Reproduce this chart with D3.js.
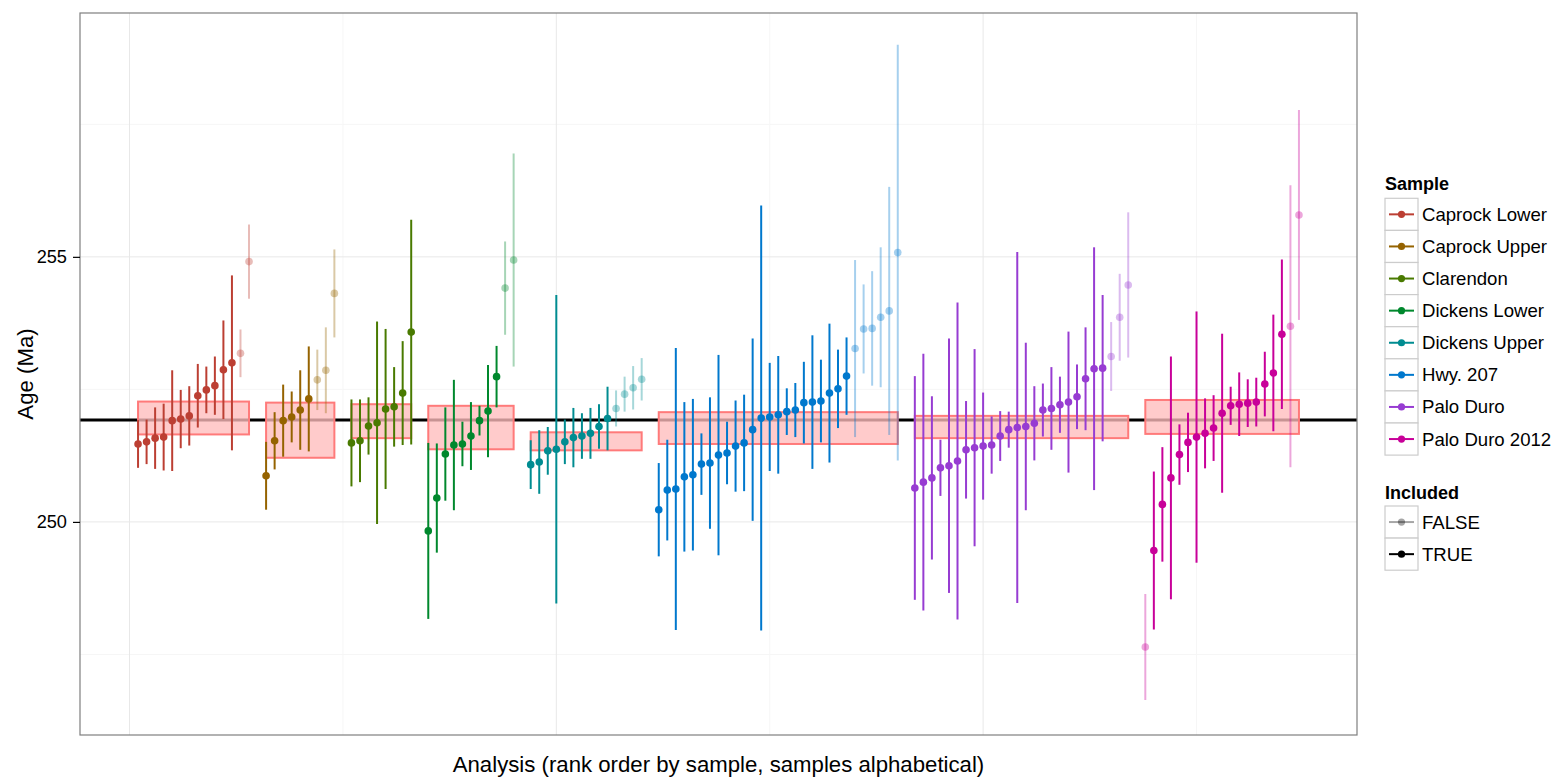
<!DOCTYPE html>
<html>
<head>
<meta charset="utf-8">
<script src="https://cdn.jsdelivr.net/npm/d3@7"></script>
<style>
  body { margin: 0; background: #fff; }
  svg { display: block; font-family: "Liberation Sans", Arial, Helvetica, sans-serif; }
</style>
</head>
<body>
<svg id="chart" width="1555" height="777"></svg>
<script>
// ---- data (ages in Ma, errors are +/- half widths) ----
const samples = ["Caprock Lower", "Caprock Upper", "Clarendon", "Dickens Lower",
                 "Dickens Upper", "Hwy. 207", "Palo Duro", "Palo Duro 2012"];

const sampleAges = [
  [251.47, 251.51, 251.58, 251.60, 251.91, 251.94, 252.00, 252.38, 252.49, 252.57, 252.87, 253.00, 253.18, 254.91],
  [250.87, 251.53, 251.91, 251.98, 252.11, 252.32, 252.68, 252.86, 254.31],
  [251.49, 251.53, 251.81, 251.87, 252.13, 252.17, 252.43, 253.58],
  [249.83, 250.45, 251.28, 251.45, 251.47, 251.62, 251.91, 252.09, 252.74, 254.41, 254.94],
  [251.08, 251.13, 251.34, 251.37, 251.51, 251.59, 251.62, 251.67, 251.80, 251.95, 252.14, 252.41, 252.53, 252.69],
  [250.23, 250.60, 250.62, 250.85, 250.89, 251.09, 251.11, 251.26, 251.30, 251.43, 251.49, 251.74, 251.96, 251.98,
   252.02, 252.08, 252.11, 252.25, 252.26, 252.28, 252.43, 252.51, 252.75, 253.27, 253.64, 253.65, 253.86, 253.98, 255.08],
  [250.64, 250.75, 250.83, 251.02, 251.06, 251.15, 251.36, 251.40, 251.43, 251.45, 251.62, 251.74, 251.78,
   251.80, 251.86, 252.11, 252.14, 252.21, 252.26, 252.36, 252.70, 252.89, 252.90, 253.12, 253.86, 254.47],
  [247.64, 249.46, 250.33, 250.83, 251.27, 251.50, 251.60, 251.67, 251.77, 252.05, 252.19, 252.22, 252.24,
   252.26, 252.60, 252.81, 253.54, 253.69, 255.79]
];

const sampleErrors = [
  [0.45, 0.42, 0.58, 0.63, 0.95, 0.55, 0.56, 0.60, 0.44, 0.55, 0.93, 1.65, 0.45, 0.70],
  [0.64, 0.54, 0.68, 0.48, 0.75, 0.99, 0.57, 0.81, 0.83],
  [0.82, 0.78, 0.54, 1.91, 1.51, 0.75, 0.98, 2.12],
  [1.66, 1.03, 0.88, 1.23, 0.42, 0.64, 0.28, 0.87, 0.58, 0.88, 2.01],
  [0.46, 0.60, 0.45, 2.91, 0.42, 0.56, 0.43, 0.48, 0.42, 0.60, 0.34, 0.33, 0.41, 0.40],
  [0.88, 0.95, 2.66, 1.41, 1.43, 0.58, 1.24, 1.89, 0.59, 0.86, 0.91, 1.72, 4.01, 1.02,
   1.11, 0.44, 0.51, 0.77, 1.26, 0.78, 1.31, 0.74, 0.73, 1.67, 0.84, 1.08, 1.32, 2.34, 3.92],
  [2.11, 2.42, 1.54, 0.53, 2.40, 2.99, 0.92, 1.86, 1.01, 0.54, 0.47, 0.34, 3.31,
   1.58, 0.70, 0.50, 0.78, 0.53, 1.33, 0.61, 0.97, 2.29, 1.38, 0.65, 0.82, 1.37],
  [1.00, 1.49, 1.08, 2.29, 0.57, 0.56, 2.37, 0.66, 0.62, 1.50, 0.36, 0.60, 0.45,
   0.46, 0.61, 1.10, 1.41, 2.66, 1.98]
];

// 1 = included in the sample mean, 0 = excluded
const sampleIncluded = [
  [1,1,1,1,1,1,1,1,1,1,1,1,0,0],
  [1,1,1,1,1,1,0,0,0],
  [1,1,1,1,1,1,1,1],
  [1,1,1,1,1,1,1,1,1,0,0],
  [1,1,1,1,1,1,1,1,1,1,0,0,0,0],
  [1,1,1,1,1,1,1,1,1,1,1,1,1,1,1,1,1,1,1,1,1,1,1,0,0,0,0,0,0],
  [1,1,1,1,1,1,1,1,1,1,1,1,1,1,1,1,1,1,1,1,1,1,1,0,0,0],
  [0,1,1,1,1,1,1,1,1,1,1,1,1,1,1,1,1,0,0]
];

// weighted mean age per sample and its uncertainty (the pink boxes)
const sampleMean = [251.96, 251.73, 251.90, 251.78, 251.52, 251.77, 251.79, 251.98];
const sampleMeanErr = [0.31, 0.52, 0.32, 0.41, 0.17, 0.30, 0.21, 0.32];
const overallMean = 251.92;

const yTicks = [250, 255];
const yMinor = [247.5, 252.5, 257.5];
const xMajor = [0, 50, 100];
const xMinor = [25, 75, 125];
const includedLevels = ["FALSE", "TRUE"];

// ---- colours: R hcl(h, c = 100, l = 45), hues evenly spaced like ggplot ----
function hclColor(h, c, l) {
  const WX = 95.047, WY = 100, WZ = 108.883;
  const un = 4 * WX / (WX + 15 * WY + 3 * WZ), vn = 9 * WY / (WX + 15 * WY + 3 * WZ);
  const Y = l > 8 ? WY * Math.pow((l + 16) / 116, 3) : WY * l / 903.3;
  const hr = h * Math.PI / 180;
  const up = c * Math.cos(hr) / (13 * l) + un, vp = c * Math.sin(hr) / (13 * l) + vn;
  const X = 9 * Y * up / (4 * vp);
  const Z = -X / 3 - 5 * Y + 3 * Y / vp;
  const x = X / 100, y = Y / 100, z = Z / 100;
  const lin = [3.240479 * x - 1.53715 * y - 0.498535 * z,
               -0.969256 * x + 1.875992 * y + 0.041556 * z,
               0.055648 * x - 0.204043 * y + 1.057311 * z];
  const gam = v => v > 0.0031308 ? 1.055 * Math.pow(v, 1 / 2.4) - 0.055 : 12.92 * v;
  const [r, g, b] = lin.map(v => Math.max(0, Math.min(255, Math.round(255 * gam(v)))));
  return d3.rgb(r, g, b).formatHex();
}
const colors = samples.map((s, i) => hclColor(15 + i * 360 / samples.length, 100, 45));
const alphaOf = inc => inc ? 1 : 0.35;

// ---- flatten into rows, rank order within sample, one empty slot between samples ----
let rows = [];
let boxes = [];
let idx = 1;
samples.forEach((s, si) => {
  const start = idx;
  sampleAges[si].forEach((a, j) => {
    rows.push({ sample: s, si, x: idx, age: a, err: sampleErrors[si][j], inc: sampleIncluded[si][j] });
    idx++;
  });
  boxes.push({ si, x0: start, x1: idx - 1, mean: sampleMean[si], err: sampleMeanErr[si] });
  idx++;
});

// ---- layout ----
const svg = d3.select("#chart");
const panel = { left: 80, top: 13, right: 1357, bottom: 735 };

const xMin = d3.min(rows, d => d.x), xMax = d3.max(rows, d => d.x);
const xPad = (xMax - xMin) * 0.05;
const x = d3.scaleLinear().domain([xMin - xPad, xMax + xPad]).range([panel.left, panel.right]);
const y = d3.scaleLinear().domain([245.98, 259.6]).range([panel.bottom, panel.top]);

// grid
const grid = svg.append("g");
grid.selectAll(".ymin").data(yMinor).join("line")
  .attr("x1", panel.left).attr("x2", panel.right)
  .attr("y1", d => y(d)).attr("y2", d => y(d))
  .attr("stroke", "#f6f6f6").attr("stroke-width", 1);
grid.selectAll(".xmin").data(xMinor).join("line")
  .attr("x1", d => x(d)).attr("x2", d => x(d))
  .attr("y1", panel.top).attr("y2", panel.bottom)
  .attr("stroke", "#f6f6f6").attr("stroke-width", 1);
grid.selectAll(".ymaj").data(yTicks).join("line")
  .attr("x1", panel.left).attr("x2", panel.right)
  .attr("y1", d => y(d)).attr("y2", d => y(d))
  .attr("stroke", "#e8e8e8").attr("stroke-width", 1);
grid.selectAll(".xmaj").data(xMajor).join("line")
  .attr("x1", d => x(d)).attr("x2", d => x(d))
  .attr("y1", panel.top).attr("y2", panel.bottom)
  .attr("stroke", "#e8e8e8").attr("stroke-width", 1);

// overall mean line
svg.append("line")
  .attr("x1", panel.left).attr("x2", panel.right)
  .attr("y1", y(overallMean)).attr("y2", y(overallMean))
  .attr("stroke", "#000").attr("stroke-width", 3);

// sample mean boxes
svg.append("g").selectAll("rect").data(boxes).join("rect")
  .attr("x", d => x(d.x0)).attr("width", d => x(d.x1) - x(d.x0))
  .attr("y", d => y(d.mean + d.err)).attr("height", d => y(d.mean - d.err) - y(d.mean + d.err))
  .attr("fill", "rgb(255,188,188)").attr("fill-opacity", 0.78)
  .attr("stroke", "rgb(255,122,122)").attr("stroke-width", 2);

// error bars
svg.append("g").selectAll("line").data(rows).join("line")
  .attr("x1", d => x(d.x)).attr("x2", d => x(d.x))
  .attr("y1", d => y(d.age - d.err)).attr("y2", d => y(d.age + d.err))
  .attr("stroke", d => colors[d.si]).attr("stroke-opacity", d => alphaOf(d.inc))
  .attr("stroke-width", 2);

// points
svg.append("g").selectAll("circle").data(rows).join("circle")
  .attr("cx", d => x(d.x)).attr("cy", d => y(d.age)).attr("r", 3.8)
  .attr("fill", d => colors[d.si]).attr("fill-opacity", d => alphaOf(d.inc));

// panel border
svg.append("rect")
  .attr("x", panel.left).attr("y", panel.top)
  .attr("width", panel.right - panel.left).attr("height", panel.bottom - panel.top)
  .attr("fill", "none").attr("stroke", "#7f7f7f").attr("stroke-width", 1.2);

// y axis
const yAxis = svg.append("g")
  .attr("transform", `translate(${panel.left},0)`)
  .call(d3.axisLeft(y).tickValues(yTicks).tickSize(7).tickPadding(6).tickFormat(d3.format("d")));
yAxis.select(".domain").remove();
yAxis.selectAll(".tick line").attr("stroke", "#000").attr("stroke-width", 1.2);
yAxis.selectAll(".tick text").attr("fill", "#000")
  .style("font-size", "18.2px").style("font-family", "'Liberation Sans', Arial, sans-serif");

// axis titles
svg.append("text")
  .attr("x", (panel.left + panel.right) / 2).attr("y", 772)
  .attr("text-anchor", "middle").style("font-size", "22.2px")
  .text("Analysis (rank order by sample, samples alphabetical)");
svg.append("text")
  .attr("transform", `translate(33,${(panel.top + panel.bottom) / 2}) rotate(-90)`)
  .attr("text-anchor", "middle").style("font-size", "22.2px")
  .text("Age (Ma)");

// ---- legends ----
const keyW = 33, keyH = 32.1, legX = 1385;
const leg = svg.append("g");

leg.append("text").attr("x", legX).attr("y", 189.5)
  .style("font-size", "18px").style("font-weight", "bold").text("Sample");
const sKeys = leg.selectAll(".skey").data(samples).join("g")
  .attr("transform", (d, i) => `translate(${legX},${198.3 + i * keyH})`);
sKeys.append("rect").attr("width", keyW).attr("height", keyH)
  .attr("fill", "#fff").attr("stroke", "#cccccc").attr("stroke-width", 1.2);
sKeys.append("line").attr("x1", 4).attr("x2", keyW - 4)
  .attr("y1", keyH / 2).attr("y2", keyH / 2)
  .attr("stroke", (d, i) => colors[i]).attr("stroke-width", 2);
sKeys.append("circle").attr("cx", keyW / 2).attr("cy", keyH / 2).attr("r", 3.6)
  .attr("fill", (d, i) => colors[i]);
sKeys.append("text").attr("x", keyW + 4).attr("y", keyH / 2 + 6.5)
  .style("font-size", "18.6px").text(d => d);

leg.append("text").attr("x", legX).attr("y", 499)
  .style("font-size", "18px").style("font-weight", "bold").text("Included");
const iKeys = leg.selectAll(".ikey").data(includedLevels).join("g")
  .attr("transform", (d, i) => `translate(${legX},${506 + i * keyH})`);
iKeys.append("rect").attr("width", keyW).attr("height", keyH)
  .attr("fill", "#fff").attr("stroke", "#cccccc").attr("stroke-width", 1.2);
iKeys.append("line").attr("x1", 4).attr("x2", keyW - 4)
  .attr("y1", keyH / 2).attr("y2", keyH / 2)
  .attr("stroke", "#000").attr("stroke-opacity", d => alphaOf(d === "TRUE"))
  .attr("stroke-width", 2);
iKeys.append("circle").attr("cx", keyW / 2).attr("cy", keyH / 2).attr("r", 3.6)
  .attr("fill", "#000").attr("fill-opacity", d => alphaOf(d === "TRUE"));
iKeys.append("text").attr("x", keyW + 4).attr("y", keyH / 2 + 6.5)
  .style("font-size", "18.6px").text(d => d);
</script>
</body>
</html>
